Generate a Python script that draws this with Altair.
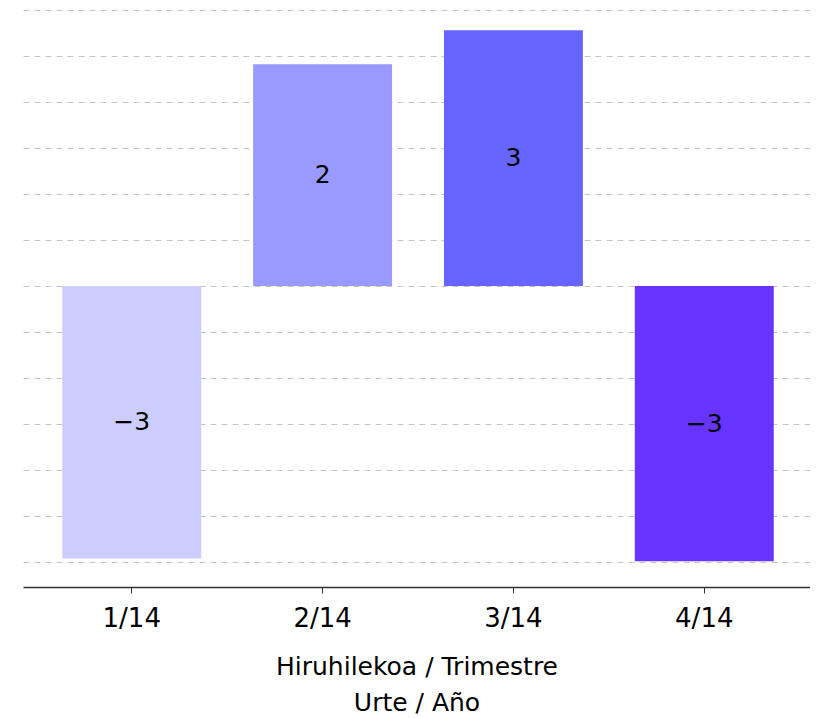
import altair as alt
import pandas as pd

quarters = ["1/14", "2/14", "3/14", "4/14"]
values = [-2.96, 2.41, 2.78, -2.99]
colors = ["#ccccff", "#9999ff", "#6666ff", "#6633ff"]
grid_values = [-3, -2.5, -2, -1.5, -1, -0.5, 0, 0.5, 1, 1.5, 2, 2.5, 3]

df = pd.DataFrame({"quarter": quarters, "value": values})

FONT = "DejaVu Sans"

base = alt.Chart(df).transform_calculate(mid="datum.value / 2")

x_enc = alt.X(
    "quarter:N",
    sort=quarters,
    scale=alt.Scale(paddingInner=0.272, paddingOuter=0.198, align=0.52),
    axis=alt.Axis(
        title=["Hiruhilekoa / Trimestre", "Urte / Año"],
        labelAngle=0,
        labelFontSize=26,
        labelFont=FONT,
        labelColor="#000000",
        labelPadding=12,
        tickSize=6,
        tickColor="#333333",
        domainColor="#333333",
        domainWidth=1.5,
        titleFont=FONT,
        titleFontSize=25,
        titleFontWeight="normal",
        titleColor="#000000",
        titlePadding=23,
        titleLineHeight=36,
        grid=False,
    ),
)

bars = base.mark_bar().encode(
    x=x_enc,
    y=alt.Y(
        "value:Q",
        scale=alt.Scale(domain=[-3.27, 3.0], nice=False, zero=False),
        axis=alt.Axis(
            values=grid_values,
            labels=False,
            ticks=False,
            domain=False,
            title=None,
            grid=True,
            gridDash=[6, 5],
            gridColor="#c4c4c4",
            gridWidth=1,
        ),
    ),
    y2=alt.datum(0),
    color=alt.Color(
        "quarter:N",
        scale=alt.Scale(domain=quarters, range=colors),
        legend=None,
    ),
)

labels = base.mark_text(
    font=FONT, fontSize=25, color="#000000", baseline="middle", align="center"
).encode(
    x=alt.X("quarter:N", sort=quarters),
    y=alt.Y("mid:Q"),
    text=alt.Text("value:Q", format=".0f"),
)

chart = (
    alt.layer(bars, labels)
    .properties(
        width=787,
        height=577,
        padding={"left": 15, "top": 2, "right": 0, "bottom": 0},
    )
    .configure_view(stroke=None)
)

chart.save("out.html", embed_options={"renderer": "svg", "actions": False})
